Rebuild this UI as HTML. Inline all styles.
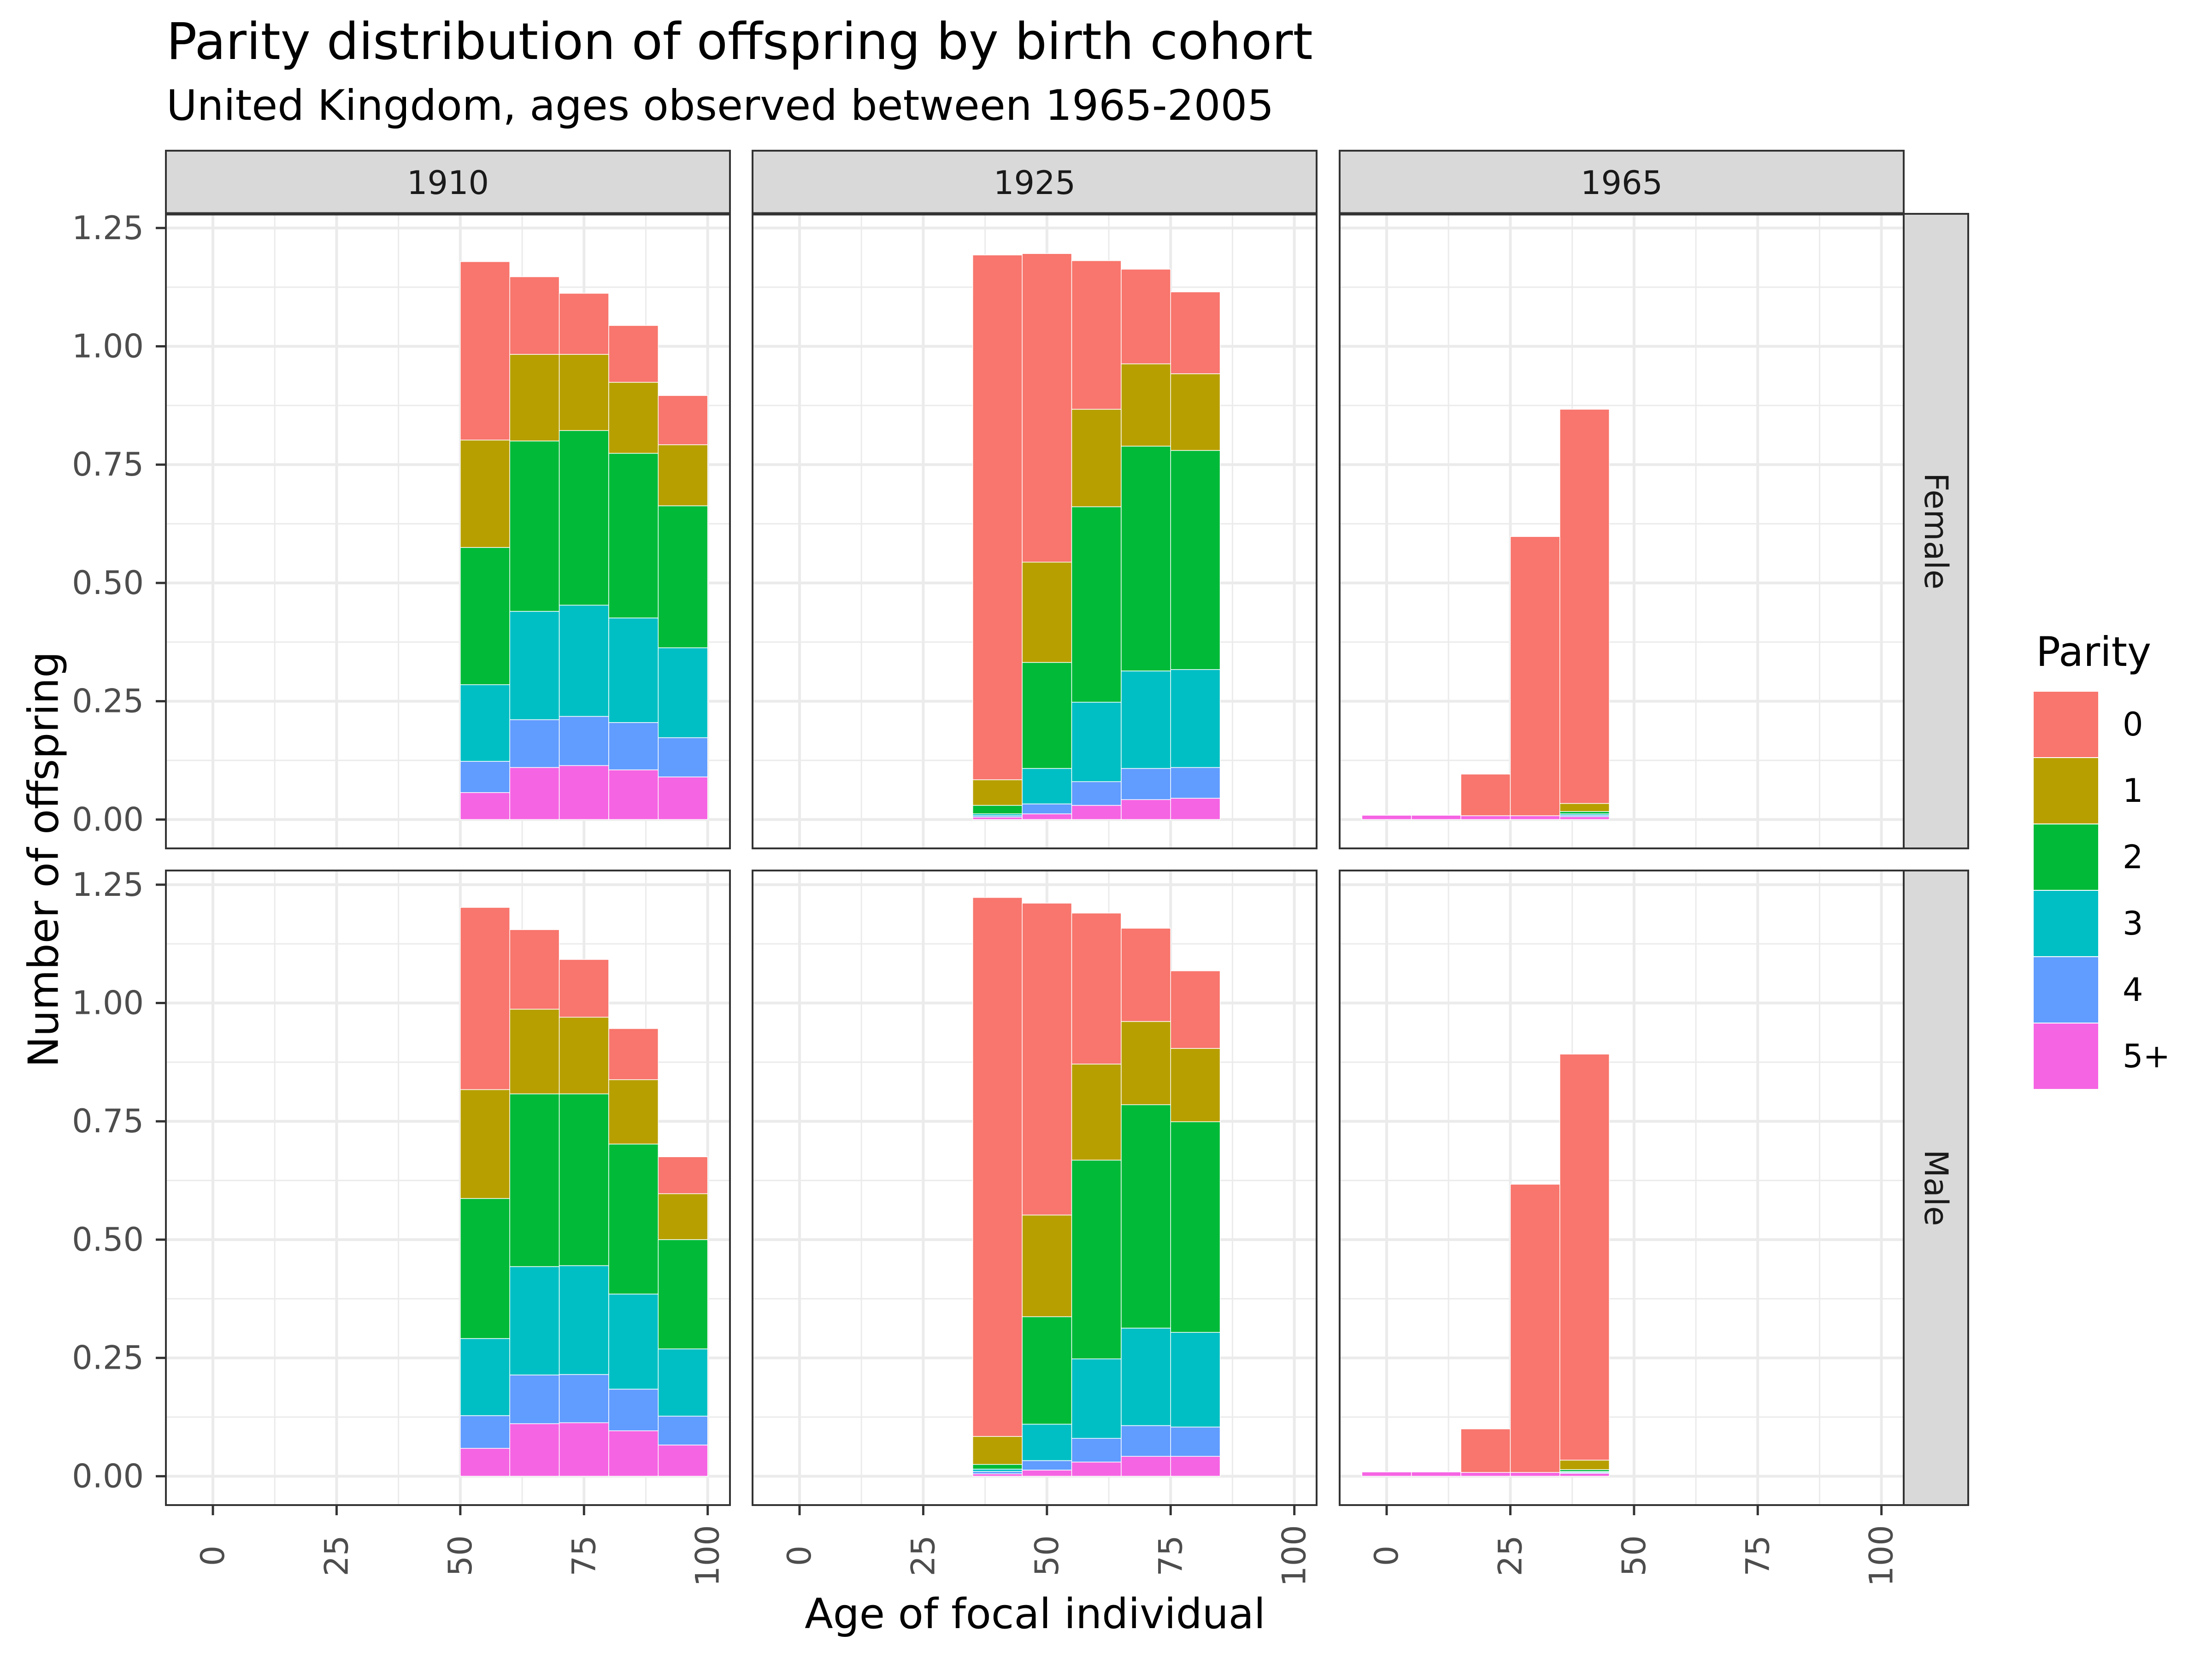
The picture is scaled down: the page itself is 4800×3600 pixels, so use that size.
<!DOCTYPE html>
<html><head><meta charset="utf-8"><style>
html,body{margin:0;padding:0;background:#fff;}
svg{display:block;font-family:"DejaVu Sans","Liberation Sans",sans-serif;}
</style></head><body>
<svg id="chart" width="4800" height="3600" viewBox="0 0 4800 3600" xmlns="http://www.w3.org/2000/svg">
<rect x="0" y="0" width="4800" height="3600" fill="#fff"/>
<text x="361" y="128" font-size="110" fill="#000">Parity distribution of offspring by birth cohort</text>
<text x="361" y="260" font-size="91" fill="#000">United Kingdom, ages observed between 1965-2005</text>
<text x="2246" y="3533" font-size="90" text-anchor="middle" fill="#000">Age of focal individual</text>
<text transform="translate(95,1865) rotate(-90)" font-size="90" text-anchor="middle" dominant-baseline="central" fill="#000">Number of offspring</text>
<g id="panels"></g>
<g id="legend"></g>
</svg>
<script>
const parities = ["0","1","2","3","4","5+"];
const colors = ["#F8766D","#B79F00","#00BA38","#00BFC4","#619CFF","#F564E3"];
const cohorts = ["1910","1925","1965"];
const sexes = ["Female","Male"];
const xTicks = [0,25,50,75,100];
const yTicks = [0,0.25,0.5,0.75,1.0,1.25];
const yTickLabels = ["0.00","0.25","0.50","0.75","1.00","1.25"];
const xTickLabels = ["0","25","50","75","100"];
// bar centres per cohort
const ages1910 = [55,65,75,85,95];
const ages1925 = [40,50,60,70,80];
const ages1965 = [0,10,20,30,40];
// cumulative tops read bottom-up: [5+, 4, 3, 2, 1, 0]
const female1910 = [[.057,.123,.285,.575,.802,1.179],[.110,.211,.440,.800,.983,1.147],[.114,.218,.453,.822,.983,1.112],[.105,.205,.426,.774,.924,1.044],[.090,.173,.363,.663,.792,.896]];
const female1925 = [[.005,.008,.012,.030,.084,1.193],[.012,.033,.108,.332,.544,1.196],[.030,.080,.248,.661,.867,1.181],[.042,.108,.314,.789,.963,1.163],[.045,.110,.317,.780,.942,1.115]];
const female1965 = [[.009,.009,.009,.009,.009,.009],[.009,.009,.009,.009,.009,.009],[.008,.008,.008,.008,.008,.096],[.008,.008,.008,.008,.008,.598],[.006,.009,.012,.017,.034,.867]];
const male1910 = [[.059,.128,.291,.587,.817,1.202],[.111,.214,.443,.808,.987,1.155],[.113,.215,.445,.808,.970,1.092],[.096,.184,.385,.702,.838,.946],[.066,.127,.269,.500,.597,.675]];
const male1925 = [[.005,.010,.015,.025,.084,1.223],[.013,.033,.110,.337,.552,1.211],[.030,.080,.248,.668,.871,1.190],[.042,.107,.313,.785,.961,1.158],[.042,.104,.304,.749,.904,1.068]];
const male1965 = [[.009,.009,.009,.009,.009,.009],[.009,.009,.009,.009,.009,.009],[.008,.008,.008,.008,.008,.100],[.008,.008,.008,.008,.008,.617],[.006,.008,.010,.014,.034,.892]];

const NS="http://www.w3.org/2000/svg";
function mk(tag,attrs,parent){const e=document.createElementNS(NS,tag);for(const k in attrs)e.setAttribute(k,attrs[k]);parent.appendChild(e);return e;}
const panelsG=document.getElementById('panels');
const colLeft=[360,1633,2907], pW=1224;
const rowTop=[464,1889], pH=1377;
const xMin=-9.5,xMax=104.5,yMin=-0.061,yMax=1.28;
const ages=[ages1910,ages1925,ages1965];
const data=[[female1910,female1925,female1965],[male1910,male1925,male1965]];

for(let r=0;r<2;r++){for(let c=0;c<3;c++){
  const L=colLeft[c],T=rowTop[r];
  const sx=v=>L+(v-xMin)/(xMax-xMin)*pW;
  const sy=v=>T+(yMax-v)/(yMax-yMin)*pH;
  const g=mk('g',{},panelsG);
  
  
  mk('rect',{x:L,y:T,width:pW,height:pH,fill:'#fff'},g);
  for(let i=0;i<xTicks.length-1;i++){const v=(xTicks[i]+xTicks[i+1])/2;mk('line',{x1:sx(v),x2:sx(v),y1:T,y2:T+pH,stroke:'#EBEBEB','stroke-width':3},g);}
  for(let i=0;i<yTicks.length-1;i++){const v=(yTicks[i]+yTicks[i+1])/2;mk('line',{x1:L,x2:L+pW,y1:sy(v),y2:sy(v),stroke:'#EBEBEB','stroke-width':3},g);}
  xTicks.forEach(v=>mk('line',{x1:sx(v),x2:sx(v),y1:T,y2:T+pH,stroke:'#EBEBEB','stroke-width':6},g));
  yTicks.forEach(v=>mk('line',{x1:L,x2:L+pW,y1:sy(v),y2:sy(v),stroke:'#EBEBEB','stroke-width':6},g));
  const d=data[r][c];
  d.forEach((cum,bi)=>{
    const a=ages[c][bi];
    let prev=0;
    for(let k=0;k<6;k++){
      const top=cum[k];
      const pi=5-k;
      if(top-prev>0){
        const rc=mk('rect',{x:sx(a-5),y:sy(top),width:sx(a+5)-sx(a-5),height:Math.max(sy(prev)-sy(top),0),fill:colors[pi],stroke:'#fff','stroke-width':1.5},g);
        
        
      }
      prev=top;
    }
  });
  mk('rect',{x:L,y:T,width:pW,height:pH,fill:'none',stroke:'#333','stroke-width':4},g);
  if(r===0){
    const s=mk('rect',{x:L,y:327,width:pW,height:T-327,fill:'#D9D9D9',stroke:'#333','stroke-width':4},g);
    
    
    const t=mk('text',{x:L+pW/2,y:421,'font-size':70,'text-anchor':'middle',fill:'#1A1A1A'},g);
    t.textContent=cohorts[c];
    
    
    mk('line',{x1:L,x2:L+pW,y1:T,y2:T,stroke:'#333','stroke-width':7},g);
  }
  if(c===2){
    const s=mk('rect',{x:L+pW,y:T,width:140,height:pH,fill:'#D9D9D9',stroke:'#333','stroke-width':4},g);
    
    
    const t=mk('text',{transform:'translate('+(L+pW+70)+','+(T+pH/2)+') rotate(90)','font-size':70,'text-anchor':'middle','dominant-baseline':'central',fill:'#1A1A1A'},g);
    t.textContent=sexes[r];
    
    
  }
  if(c===0){
    yTicks.forEach((v,i)=>{
      mk('line',{x1:L-22,x2:L,y1:sy(v),y2:sy(v),stroke:'#333','stroke-width':5},g);
      const t=mk('text',{x:L-48,y:sy(v),'font-size':70,'text-anchor':'end','dominant-baseline':'central',fill:'#4D4D4D'},g);
      t.textContent=yTickLabels[i];
      
      
    });
  }
  if(r===1){
    xTicks.forEach((v,i)=>{
      mk('line',{x1:sx(v),x2:sx(v),y1:T+pH,y2:T+pH+22,stroke:'#333','stroke-width':5},g);
      const t=mk('text',{transform:'translate('+sx(v)+',3376) rotate(-90)','font-size':70,'text-anchor':'middle','dominant-baseline':'central',fill:'#4D4D4D'},g);
      t.textContent=xTickLabels[i];
      
      
    });
  }
}}
const lg=document.getElementById('legend');


const lt=mk('text',{x:4418,y:1445,'font-size':88,fill:'#000'},lg);
lt.textContent='Parity';


parities.forEach((p,i)=>{
  const y=1500+i*144;
  const rc=mk('rect',{x:4412,y:y,width:142,height:144,fill:colors[i],stroke:'#fff','stroke-width':2},lg);
  
  
  const t=mk('text',{x:4606,y:y+72,'font-size':70,'dominant-baseline':'central',fill:'#000'},lg);
  t.textContent=p;
  
  
});
</script>
</body></html>
